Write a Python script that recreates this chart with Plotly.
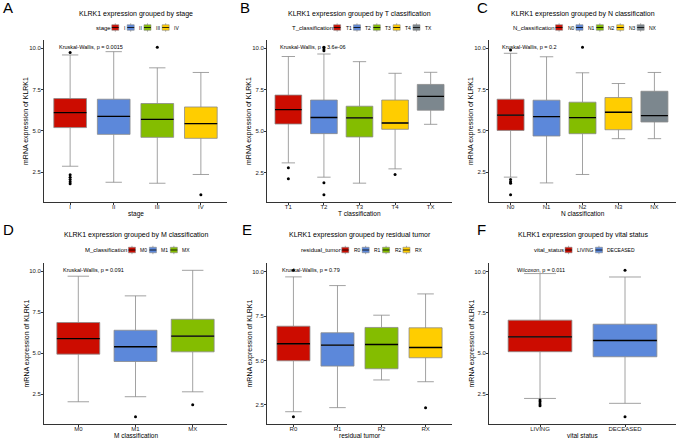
import plotly.graph_objects as go

# ---------------- data ----------------
PALETTE = ["#CC0C00", "#5C88DA", "#84BD00", "#FFCD00", "#7C878E"]
Y_TICKS = [2.5, 5.0, 7.5, 10.0]
Y_TICK_LABELS = ["2.5", "5.0", "7.5", "10.0"]

# A: stage
stage_cats = ["I", "II", "III", "IV"]
stage_q1 = [5.20, 4.79, 4.61, 4.55]
stage_med = [6.11, 5.88, 5.70, 5.44]
stage_q3 = [6.96, 6.92, 6.66, 6.45]
stage_lo = [2.86, 1.89, 1.83, 2.36]
stage_hi = [9.60, 9.80, 8.82, 8.54]
stage_out = [[9.75, 2.35, 2.20, 2.05, 1.92, 1.80], [], [10.06], [1.14]]

# B: T classification
t_cats = ["T1", "T2", "T3", "T4", "TX"]
t_q1 = [5.44, 4.86, 4.66, 5.12, 6.27]
t_med = [6.31, 5.83, 5.81, 5.50, 7.10]
t_q3 = [7.18, 6.88, 6.51, 6.88, 7.82]
t_lo = [3.10, 2.24, 1.88, 2.74, 5.42]
t_hi = [9.50, 9.65, 9.19, 8.49, 8.55]
t_out = [[2.80, 2.14], [10.05, 9.95, 9.85, 1.90, 1.19], [], [2.40], []]

# C: N classification
n_cats = ["N0", "N1", "N2", "N3", "NX"]
n_q1 = [5.03, 4.69, 4.83, 5.07, 5.54]
n_med = [5.95, 5.86, 5.80, 6.13, 5.93]
n_q3 = [6.92, 6.86, 6.74, 7.02, 7.40]
n_lo = [2.20, 1.85, 2.36, 4.53, 4.53]
n_hi = [9.70, 9.49, 8.52, 7.87, 8.54]
n_out = [[9.90, 2.05, 1.92, 1.83, 1.14], [], [10.06], [], []]

# D: M classification
m_cats = ["M0", "M1", "MX"]
m_q1 = [4.94, 4.49, 5.08]
m_med = [5.89, 5.39, 6.04]
m_q3 = [6.87, 6.40, 7.07]
m_lo = [2.03, 2.34, 2.64]
m_hi = [9.70, 8.50, 10.06]
m_out = [[], [1.12], [1.85]]

# E: residual tumor
r_cats = ["R0", "R1", "R2", "RX"]
r_q1 = [4.99, 4.69, 4.54, 5.16]
r_med = [5.95, 5.87, 5.91, 5.74]
r_q3 = [6.94, 6.57, 6.87, 6.85]
r_lo = [2.12, 2.35, 3.91, 3.81]
r_hi = [9.72, 9.23, 7.56, 8.76]
r_out = [[10.09, 1.84], [], [], [2.35]]

# F: vital status
v_cats = ["LIVING", "DECEASED"]
v_q1 = [5.10, 4.79]
v_med = [6.01, 5.79]
v_q3 = [7.04, 6.79]
v_lo = [2.23, 1.93]
v_hi = [9.90, 9.69]
v_out = [[2.13, 2.03, 1.89, 1.78], [10.10, 1.11]]

panels = [
    dict(letter="A", title="KLRK1 expression grouped by stage", legend="stage", xlab="stage",
         stat="Kruskal-Wallis, p = 0.0015",
         cats=stage_cats, q1=stage_q1, med=stage_med, q3=stage_q3, lo=stage_lo, hi=stage_hi, out=stage_out),
    dict(letter="B", title="KLRK1 expression grouped by T classification", legend="T_classification",
         xlab="T classification", stat="Kruskal-Wallis, p = 3.6e-06",
         cats=t_cats, q1=t_q1, med=t_med, q3=t_q3, lo=t_lo, hi=t_hi, out=t_out),
    dict(letter="C", title="KLRK1 expression grouped by N classification", legend="N_classification",
         xlab="N classification", stat="Kruskal-Wallis, p = 0.2",
         cats=n_cats, q1=n_q1, med=n_med, q3=n_q3, lo=n_lo, hi=n_hi, out=n_out),
    dict(letter="D", title="KLRK1 expression grouped by M classification", legend="M_classification",
         xlab="M classification", stat="Kruskal-Wallis, p = 0.091",
         cats=m_cats, q1=m_q1, med=m_med, q3=m_q3, lo=m_lo, hi=m_hi, out=m_out),
    dict(letter="E", title="KLRK1 expression grouped by residual tumor", legend="residual_tumor",
         xlab="residual tumor", stat="Kruskal-Wallis, p = 0.79",
         cats=r_cats, q1=r_q1, med=r_med, q3=r_q3, lo=r_lo, hi=r_hi, out=r_out),
    dict(letter="F", title="KLRK1 expression grouped by vital status", legend="vital_status",
         xlab="vital status", stat="Wilcoxon, p = 0.011",
         cats=v_cats, q1=v_q1, med=v_med, q3=v_q3, lo=v_lo, hi=v_hi, out=v_out),
]

# ---------------- layout geometry (pixels) ----------------
W, H = 676, 440
COLS = [(44, 227), (267, 452), (489, 676)]
ROWS = [(40, 202), (263, 424)]
TITLE_Y = [14, 235]
LEGEND_Y = [27.5, 250]
LETTER_POS = [(1, 7.5), (238, 7.5), (475, 7.5), (1, 229.5), (240, 229.5), (475, 229.5)]

FONT = "Liberation Sans, Arial, Helvetica, sans-serif"
AXIS_COL = "#333333"
TEXT_COL = "#222222"
BOX_LINE = "#8a8a8a"

CW = {' ': .278, '_': .556, '.': .278, ',': .278, '-': .333, '=': .584}
for ch in "abdeghnopqu0123456789":
    CW[ch] = .556
for ch in "cksvxyz":
    CW[ch] = .5
CW.update({'f': .278, 'i': .222, 'j': .222, 'l': .222, 'r': .333, 't': .278})
CW.update({'m': .833, 'w': .722, 'A': .667, 'B': .667, 'C': .722, 'D': .722, 'E': .667, 'F': .611,
           'G': .778, 'H': .722, 'I': .278, 'K': .667, 'L': .556, 'M': .833, 'N': .722, 'R': .722,
           'S': .667, 'T': .611, 'V': .667, 'X': .667, 'W': .944})


def text_w(s, size):
    return sum(CW.get(c, .556) for c in s) * size


def px(x):
    return x / W


def py(y):
    return 1 - y / H


fig = go.Figure()
annotations = []
shapes = []
layout_axes = {}

for i, p in enumerate(panels):
    r, c = divmod(i, 3)
    x0, x1 = COLS[c]
    y0, y1 = ROWS[r]
    ax = "" if i == 0 else str(i + 1)
    xa, ya = "x" + ax, "y" + ax
    n = len(p["cats"])

    for k, cat in enumerate(p["cats"]):
        col = PALETTE[k]
        fig.add_trace(go.Box(
            x=[cat], q1=[p["q1"][k]], median=[p["med"][k]], q3=[p["q3"][k]],
            lowerfence=[p["lo"][k]], upperfence=[p["hi"][k]],
            fillcolor=col, line=dict(color=BOX_LINE, width=0.8), width=0.75,
            boxpoints=False, showlegend=False, hoverinfo="skip", xaxis=xa, yaxis=ya))
        # black median bar
        fig.add_trace(go.Box(
            x=[cat], q1=[p["med"][k]], median=[p["med"][k]], q3=[p["med"][k]],
            lowerfence=[p["med"][k]], upperfence=[p["med"][k]],
            fillcolor="rgba(0,0,0,0)", line=dict(color="black", width=1.3), width=0.75,
            boxpoints=False, showlegend=False, hoverinfo="skip", xaxis=xa, yaxis=ya))
        if p["out"][k]:
            fig.add_trace(go.Scatter(
                x=[cat] * len(p["out"][k]), y=p["out"][k], mode="markers",
                marker=dict(color="black", size=3), showlegend=False, hoverinfo="skip",
                xaxis=xa, yaxis=ya))

    allv = p["lo"] + p["hi"] + [v for o in p["out"] for v in o]
    mn, mx = min(allv), max(allv)
    pad = 0.05 * (mx - mn)

    layout_axes["xaxis" + ax] = dict(
        domain=[px(x0), px(x1)], anchor=ya, type="category",
        categoryorder="array", categoryarray=p["cats"], range=[-0.6, n - 0.4],
        showline=True, linecolor=AXIS_COL, linewidth=0.8, ticks="outside", ticklen=2,
        tickcolor=AXIS_COL, tickwidth=0.8, ticklabelstandoff=-3,
        tickfont=dict(size=6, color=TEXT_COL, family=FONT),
        showgrid=False, zeroline=False, fixedrange=True)
    layout_axes["yaxis" + ax] = dict(
        domain=[py(y1), py(y0)], anchor=xa, range=[mn - pad, mx + pad],
        tickvals=Y_TICKS, ticktext=Y_TICK_LABELS,
        showline=True, linecolor=AXIS_COL, linewidth=0.8, ticks="outside", ticklen=2,
        tickcolor=AXIS_COL, tickwidth=0.8, ticklabelstandoff=-1,
        tickfont=dict(size=6, color=TEXT_COL, family=FONT),
        showgrid=False, zeroline=False, fixedrange=True)

    cx = (x0 + x1) / 2
    annotations.append(dict(text=p["title"], x=px(cx), y=py(TITLE_Y[r]), xref="paper", yref="paper",
                            showarrow=False, xanchor="center", yanchor="middle",
                            font=dict(size=7, color="black", family=FONT)))
    lx, ly = LETTER_POS[i]
    annotations.append(dict(text=p["letter"], x=px(lx), y=py(ly), xref="paper", yref="paper",
                            showarrow=False, xanchor="left", yanchor="middle",
                            font=dict(size=15, color="black", family=FONT)))
    annotations.append(dict(text=p["xlab"], x=px(cx), y=py(y1 + 11.5), xref="paper", yref="paper",
                            showarrow=False, xanchor="center", yanchor="middle",
                            font=dict(size=6.5, color="black", family=FONT)))
    annotations.append(dict(text="mRNA expression of KLRK1", x=px(x0 - 18), y=py((y0 + y1) / 2),
                            xref="paper", yref="paper", textangle=-90,
                            showarrow=False, xanchor="center", yanchor="middle",
                            font=dict(size=7, color="black", family=FONT)))
    annotations.append(dict(text=p["stat"], x=-0.3, y=mx, xref=xa, yref=ya, showarrow=False,
                            xanchor="left", yanchor="middle",
                            font=dict(size=5.5, color="black", family=FONT)))

    # legend (drawn manually)
    TS, LS = 6, 5
    KW, KH = 7, 5.5
    tw = text_w(p["legend"], TS)
    items = [text_w(cat, LS) for cat in p["cats"]]
    total = tw + 3 + sum(KW + 3 + w for w in items) + 4 * (n - 1)
    sx = cx - total / 2
    yc = LEGEND_Y[r]
    annotations.append(dict(text=p["legend"], x=px(sx), y=py(yc), xref="paper", yref="paper",
                            showarrow=False, xanchor="left", yanchor="middle",
                            font=dict(size=TS, color="black", family=FONT)))
    kx = sx + tw + 3
    for k, cat in enumerate(p["cats"]):
        shapes.append(dict(type="line", xref="paper", yref="paper",
                           x0=px(kx + KW / 2), x1=px(kx + KW / 2), y0=py(yc - 4.2), y1=py(yc + 4.2),
                           line=dict(color=BOX_LINE, width=0.7)))
        shapes.append(dict(type="rect", xref="paper", yref="paper",
                           x0=px(kx), x1=px(kx + KW), y0=py(yc - KH / 2), y1=py(yc + KH / 2),
                           fillcolor=PALETTE[k], line=dict(color=BOX_LINE, width=0.6)))
        shapes.append(dict(type="line", xref="paper", yref="paper",
                           x0=px(kx), x1=px(kx + KW), y0=py(yc), y1=py(yc),
                           line=dict(color="black", width=0.8)))
        annotations.append(dict(text=cat, x=px(kx + KW + 3), y=py(yc), xref="paper", yref="paper",
                                showarrow=False, xanchor="left", yanchor="middle",
                                font=dict(size=LS, color="black", family=FONT)))
        kx += KW + 3 + items[k] + 4

fig.update_layout(
    width=W, height=H, margin=dict(l=0, r=0, t=0, b=0),
    paper_bgcolor="white", plot_bgcolor="white", boxmode="overlay",
    showlegend=False, annotations=annotations, shapes=shapes,
    font=dict(family=FONT), **layout_axes)

fig.write_html("out.html", config={"displayModeBar": False},
               post_script="document.body.style.margin='0px';document.body.style.overflow='hidden';")
